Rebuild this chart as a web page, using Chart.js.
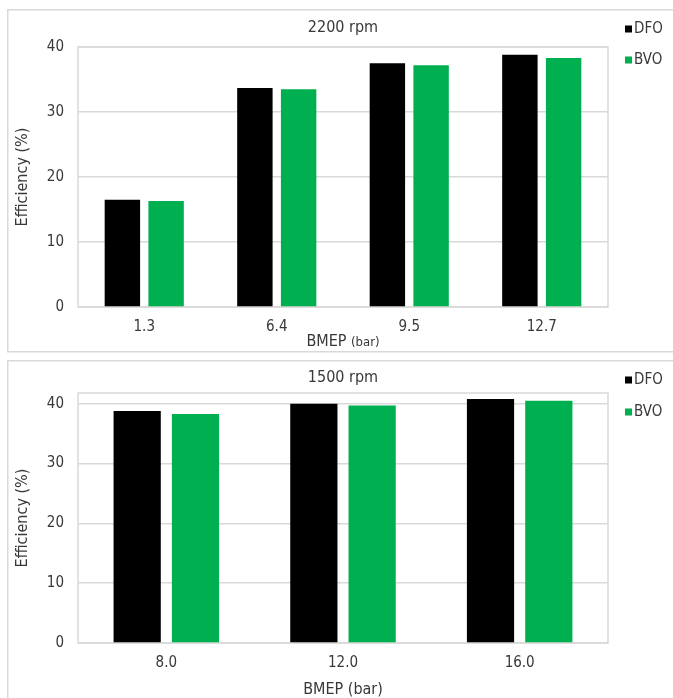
<!DOCTYPE html>
<html>
<head>
<meta charset="utf-8">
<script src="https://cdn.jsdelivr.net/npm/chart.js@4/dist/chart.umd.min.js"></script>
<style>
  html, body { margin: 0; padding: 0; background: #fff; overflow: hidden; }
  body { width: 673px; height: 698px; position: relative; }
  .panel { position: absolute; left: 7px; }
  #topWrap { top: 9px; width: 666px; height: 344px; }
  #bottomWrap { top: 360px; width: 666px; height: 338px; }
  canvas { display: block; }
</style>
</head>
<body>
<div class="panel" id="topWrap"><canvas id="topChart" width="666" height="344"></canvas></div>
<div class="panel" id="bottomWrap"><canvas id="bottomChart" width="666" height="338"></canvas></div>
<script>
// Series labels and colours
const seriesNames = ['DFO', 'BVO'];
const seriesColors = ['#000000', '#00b050'];

// 2200 rpm test points
const titleTop = '2200 rpm';
const bmepTop = ['1.3', '6.4', '9.5', '12.7'];
const dfoTop = [16.5, 33.7, 37.5, 38.8];
const bvoTop = [16.3, 33.5, 37.2, 38.3];

// 1500 rpm test points
const titleBottom = '1500 rpm';
const bmepBottom = ['8.0', '12.0', '16.0'];
const dfoBottom = [38.8, 40.0, 40.8];
const bvoBottom = [38.3, 39.7, 40.5];

// Efficiency axis ticks
const yTickValues = [0, 10, 20, 30, 40];

// Axis text
const yTitle = 'Efficiency (%)';
const xTitleMain = 'BMEP';
const xTitleUnit = '(bar)';

const FONT = '"DejaVu Sans Condensed", "Liberation Sans Narrow", "Roboto Condensed", "DejaVu Sans", sans-serif';
const TEXT = '#383838';
const GRID = '#d9d9d9';
Chart.defaults.font.family = FONT;
Chart.defaults.color = TEXT;

// Panel outline, plot frame, title, legend and axis titles
const panelDecor = {
  id: 'panelDecor',
  beforeDraw(chart) {
    const { ctx, width } = chart;
    const o = chart.options.plugins.panelDecor;
    ctx.save();
    ctx.strokeStyle = GRID;
    ctx.lineWidth = 1.5;
    ctx.strokeRect(0.75, 0.75, width + 10, o.panelHeight);
    ctx.restore();
  },
  beforeDatasetsDraw(chart) {
    const { ctx, chartArea: a } = chart;
    ctx.save();
    ctx.strokeStyle = GRID;
    ctx.lineWidth = 1.5;
    ctx.strokeRect(a.left, a.top, a.right - a.left, a.bottom - a.top);
    ctx.restore();
  },
  afterDraw(chart) {
    const { ctx, chartArea: a } = chart;
    const o = chart.options.plugins.panelDecor;
    const cx = (a.left + a.right) / 2;
    ctx.save();
    ctx.fillStyle = TEXT;
    ctx.textBaseline = 'middle';

    // chart title
    ctx.font = '16px ' + FONT;
    ctx.textAlign = 'center';
    ctx.fillText(o.title, cx, o.titleY);

    // legend
    ctx.font = '15px ' + FONT;
    ctx.textAlign = 'left';
    chart.data.datasets.forEach((ds, i) => {
      const y = o.legendY[i];
      ctx.fillStyle = ds.backgroundColor;
      ctx.fillRect(o.legendX, y - 3.5, 7, 7);
      ctx.fillStyle = TEXT;
      ctx.fillText(ds.label, o.legendX + 9, y + 0.5);
    });

    // x axis title
    ctx.font = '16px ' + FONT;
    const wMain = ctx.measureText(xTitleMain + ' ').width;
    ctx.font = o.unitSize + 'px ' + FONT;
    const wUnit = ctx.measureText(xTitleUnit).width;
    const x0 = cx - (wMain + wUnit) / 2;
    ctx.font = '16px ' + FONT;
    ctx.fillText(xTitleMain + ' ', x0, o.xTitleY);
    ctx.font = o.unitSize + 'px ' + FONT;
    ctx.fillText(xTitleUnit, x0 + wMain, o.xTitleY + (16 - o.unitSize) * 0.3);

    // y axis title
    ctx.font = '16px ' + FONT;
    ctx.translate(o.yTitleX, (a.top + a.bottom) / 2);
    ctx.rotate(-Math.PI / 2);
    ctx.textAlign = 'center';
    ctx.fillText(yTitle, 0, 0);
    ctx.restore();
  }
};

function makeChart(id, labels, dfo, bvo, cfg) {
  return new Chart(document.getElementById(id), {
    type: 'bar',
    data: {
      labels: labels,
      datasets: [
        { label: seriesNames[0], data: dfo, backgroundColor: seriesColors[0] },
        { label: seriesNames[1], data: bvo, backgroundColor: seriesColors[1] }
      ]
    },
    options: {
      responsive: false,
      animation: false,
      devicePixelRatio: 1,
      layout: { padding: { top: cfg.padTop, right: 65, left: 0, bottom: 0 } },
      datasets: { bar: { categoryPercentage: 0.66, barPercentage: 0.81 } },
      plugins: {
        legend: { display: false },
        title: { display: false },
        tooltip: { enabled: false },
        panelDecor: {
          title: cfg.title,
          titleY: cfg.titleY,
          legendX: 618,
          legendY: cfg.legendY,
          xTitleY: cfg.xTitleY,
          unitSize: cfg.unitSize,
          yTitleX: 16,
          panelHeight: cfg.panelHeight
        }
      },
      scales: {
        x: {
          grid: { display: false, drawTicks: false },
          border: { display: false },
          ticks: { font: { size: 15 }, color: TEXT, padding: 11, maxRotation: 0 },
          afterFit(scale) { scale.height = cfg.xHeight; }
        },
        y: {
          min: 0,
          max: cfg.yMax,
          grid: { color: GRID, lineWidth: 1.5, drawTicks: false },
          border: { display: false },
          ticks: { font: { size: 15 }, color: TEXT, padding: 14 },
          afterBuildTicks(scale) {
            scale.ticks = yTickValues.map(v => ({ value: v }));
          },
          afterFit(scale) { scale.width = 71; }
        }
      }
    },
    plugins: [panelDecor]
  });
}

makeChart('topChart', bmepTop, dfoTop, bvoTop, {
  title: titleTop, titleY: 19, legendY: [20, 51], padTop: 38, xHeight: 46,
  xTitleY: 333, unitSize: 13, yMax: 40, panelHeight: 342
});

makeChart('bottomChart', bmepBottom, dfoBottom, bvoBottom, {
  title: titleBottom, titleY: 18, legendY: [20, 52], padTop: 33, xHeight: 55,
  xTitleY: 330, unitSize: 16, yMax: 41.8, panelHeight: 400
});
</script>
</body>
</html>
